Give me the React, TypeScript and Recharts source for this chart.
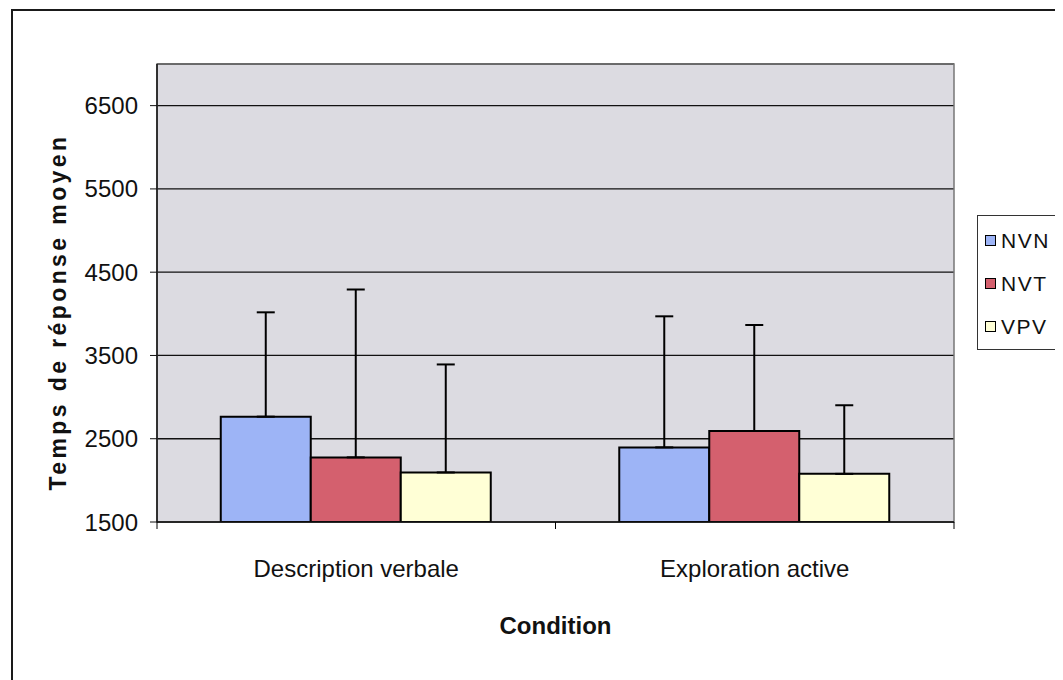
import React from 'react';
import { BarChart, Bar, XAxis, YAxis, CartesianGrid, ErrorBar, Legend, ReferenceArea } from 'recharts';

const categories = ['Description verbale', 'Exploration active'];
const seriesNames = ['NVN', 'NVT', 'VPV'];
const nvnMeans = [2765, 2396];
const nvtMeans = [2276, 2593];
const vpvMeans = [2095, 2078];
const nvnErrors = [1253, 1574];
const nvtErrors = [2016, 1273];
const vpvErrors = [1297, 824];
const yTicks = [1500, 2500, 3500, 4500, 5500, 6500];
const yMin = 1500;
const yMax = 7000;
const colors = ['#9db4f6', '#d4606e', '#ffffd6'];

const data = categories.map((c, i) => ({
  name: c,
  NVN: nvnMeans[i],
  NVT: nvtMeans[i],
  VPV: vpvMeans[i],
  NVNerr: [0, nvnErrors[i]],
  NVTerr: [0, nvtErrors[i]],
  VPVerr: [0, vpvErrors[i]],
}));

const FONT = '"Liberation Sans", Arial, sans-serif';

const XTick = (props: any) => {
  const { x, y, payload, index, width } = props;
  const half = payload && payload.offset ? payload.offset : width / (2 * categories.length);
  return (
    <g>
      <line x1={x - half} y1={y} x2={x - half} y2={y + 7} stroke="#000" strokeWidth={1} />
      {index === categories.length - 1 && (
        <line x1={x + half} y1={y} x2={x + half} y2={y + 7} stroke="#000" strokeWidth={1} />
      )}
      <text x={x} y={y + 55} textAnchor="middle" fontFamily={FONT} fontSize={24} fill="#111">
        {payload.value}
      </text>
    </g>
  );
};

const YTitle = (props: any) => {
  const vb = props.viewBox || { x: 0, y: 56, width: 149, height: 458 };
  const cx = vb.x + 50;
  const cy = vb.y + vb.height / 2 + 19;
  return (
    <text
      x={cx}
      y={cy}
      transform={`rotate(-90 ${cx} ${cy})`}
      textAnchor="middle"
      dominantBaseline="central"
      fontFamily={FONT}
      fontWeight="bold"
      fontSize={23}
      letterSpacing={3.4}
      fill="#111"
    >
      Temps de réponse moyen
    </text>
  );
};

const XTitle = (props: any) => {
  const vb = props.viewBox || { x: 149, y: 514, width: 797, height: 158 };
  return (
    <text
      x={vb.x + vb.width / 2}
      y={vb.y + 112}
      textAnchor="middle"
      fontFamily={FONT}
      fontWeight="bold"
      fontSize={24}
      fill="#111"
    >
      Condition
    </text>
  );
};

const LegendBox = () => (
  <div
    style={{
      background: '#fff',
      borderTop: '1.5px solid #333',
      borderLeft: '1.5px solid #333',
      borderBottom: '1.5px solid #333',
      height: 135,
      width: 130,
      boxSizing: 'border-box',
      paddingTop: 3,
    }}
  >
    {seriesNames.map((n, i) => (
      <div key={n} style={{ height: 43, display: 'flex', alignItems: 'center', paddingLeft: 7 }}>
        <span
          style={{
            display: 'inline-block',
            width: 9,
            height: 9,
            border: '1.5px solid #000',
            background: colors[i],
            marginRight: 5,
          }}
        />
        <span style={{ fontFamily: FONT, fontSize: 21, letterSpacing: 1.5, color: '#111' }}>{n}</span>
      </div>
    ))}
  </div>
);

export default function App() {
  return (
    <div style={{ position: 'relative', width: 1055, height: 672, background: '#fff', overflow: 'hidden' }}>
      <div
        style={{
          position: 'absolute',
          left: 3,
          top: 1,
          width: 1052,
          height: 671,
          borderTop: '2.5px solid #1a1a1a',
          borderLeft: '2px solid #1a1a1a',
          boxSizing: 'border-box',
          pointerEvents: 'none',
        }}
      />
      <div style={{ position: 'absolute', left: 0, top: 0 }}>
        <BarChart
          width={1055}
          height={672}
          data={data}
          margin={{ top: 56, right: 109, bottom: 0, left: 0 }}
          barCategoryGap="16%"
          barGap={0}
        >
          <CartesianGrid vertical={false} stroke="#111" strokeWidth={1.3} fill="#dcdbe1" />
          <ReferenceArea y1={yMin} y2={yMax} fill="none" fillOpacity={0} stroke="#777" strokeWidth={1.5} />
          <XAxis
            dataKey="name"
            height={158}
            tickLine={false}
            tickSize={0}
            tickMargin={0}
            axisLine={{ stroke: '#111', strokeWidth: 1.5 }}
            tick={<XTick />}
            interval={0}
            label={<XTitle />}
          />
          <YAxis
            width={149}
            domain={[yMin, yMax]}
            ticks={yTicks}
            allowDataOverflow
            tickSize={7}
            tickMargin={12}
            axisLine={{ stroke: '#111', strokeWidth: 1.5 }}
            tickLine={{ stroke: '#111' }}
            tick={{ fontFamily: FONT, fontSize: 24, fill: '#111' }}
            label={<YTitle />}
          />
          <Legend
            layout="vertical"
            align="center"
            verticalAlign="middle"
            content={<LegendBox />}
            wrapperStyle={{ position: 'absolute', left: 969, top: 207, width: 130, right: 'auto', bottom: 'auto' }}
          />
          {seriesNames.map((n, i) => (
            <Bar key={n} dataKey={n} fill={colors[i]} stroke="#000" strokeWidth={2} isAnimationActive={false}>
              <ErrorBar dataKey={`${n}err`} direction="y" width={9} stroke="#000" strokeWidth={2} />
            </Bar>
          ))}
        </BarChart>
      </div>
    </div>
  );
}
